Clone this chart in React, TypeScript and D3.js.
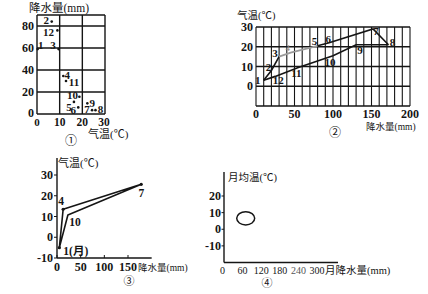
import React from 'react';
import * as d3 from 'd3';

// ---------- Chart 1 (temperature x, precipitation y), month scatter ----------
const c1Months = [1, 2, 3, 4, 5, 6, 7, 8, 9, 10, 11, 12];
const c1Temp = [0.3, 6.5, 9.5, 11.6, 16.3, 18.2, 24.3, 25.8, 22.2, 18.7, 12.8, 9];
const c1Precip = [59, 84, 59, 34.5, 11, 6, 3.5, 3.5, 9.7, 15.7, 30, 76];
const c1XTicks = [10, 20, 30];
const c1YTicks = [20, 40, 60, 80];

// ---------- Chart 2 (precipitation x, temperature y), annual loop ----------
const c2Months = [1, 2, 3, 4, 5, 6, 7, 8, 9, 10, 11, 12];
const c2Precip = [10, 20, 30, 45, 80, 95, 152, 172, 130, 100, 55, 25];
const c2Temp = [3, 8, 15, 17, 20.5, 22, 29, 21, 21, 15.5, 9.5, 5];
const c2XTicks = [0, 50, 100, 150, 200];
const c2YTicks = [0, 10, 20, 30];

// ---------- Chart 3 ----------
const c3Months = [1, 4, 7, 10];
const c3Precip = [5, 13, 178, 23];
const c3Temp = [-5, 13.5, 25.5, 10.7];
const c3XTicks = [0, 50, 100, 150];
const c3YTicks = [-10, 0, 10, 20, 30];

// ---------- Chart 4 (ellipse region) ----------
const c4PrecipRange = [41, 99];
const c4TempRange = [2.6, 10.6];
const c4XTicks = [0, 60, 120, 180, 240, 300];
const c4YTicks = [-10, 0, 10, 20];

const NUM = "'Liberation Serif', 'Noto Sans CJK SC', serif";
const INK = '#151515';
const W = 'bold';

// label offsets (style only)
const c1Off: Record<number, [number, number]> = {
  1: [3, -4], 2: [-5.5, -1.5], 3: [-5.5, -4], 4: [4, -1], 5: [-5, 5], 6: [-5, 2.5],
  7: [-5, -1.5], 8: [5, -1.5], 9: [5, 0], 10: [-7, -1.5], 11: [8, 1], 12: [-9, 2],
};
const c2Off: Record<number, [number, number]> = {
  1: [-6, 0], 2: [-3, -3], 3: [-4, -4], 4: [-3, -5], 5: [-3, -5], 6: [-1, -4],
  7: [3, 2], 8: [4, -3], 9: [4, 5], 10: [-3, 6], 11: [-2, 6], 12: [3, 4],
};
const c3Off: Record<number, [number, number]> = {
  1: [4, 3], 4: [-2, -8], 7: [0, 9], 10: [7, 7],
};

function Chart1() {
  const x = d3.scaleLinear().domain([0, 30]).range([37, 105]);
  const y = d3.scaleLinear().domain([0, 90]).range([114, 15]);
  const gridX = [0, 10, 20, 30];
  const gridY = [0, 20, 40, 60, 80, 90];
  return (
    <g>
      {gridX.map((v) => (
        <line key={'gx' + v} x1={x(v)} x2={x(v)} y1={y(0)} y2={y(90)} stroke={INK} strokeWidth={1.4} />
      ))}
      {gridY.map((v) => (
        <line key={'gy' + v} x1={x(0)} x2={x(30)} y1={y(v)} y2={y(v)} stroke={INK} strokeWidth={1.4} />
      ))}
      {c1YTicks.map((v) => (
        <text key={'yt' + v} x={x(0) - 3} y={y(v)} textAnchor="end" dominantBaseline="central" fontFamily={NUM} fontWeight={W} fontSize={12} fill={INK}>{v}</text>
      ))}
      <text x={x(0) - 3} y={y(0) - 1} textAnchor="end" dominantBaseline="central" fontFamily={NUM} fontWeight={W} fontSize={12} fill={INK}>0</text>
      <text x={x(0)} y={y(0) + 7.5} textAnchor="middle" dominantBaseline="central" fontFamily={NUM} fontWeight={W} fontSize={11} fill={INK}>0</text>
      {c1XTicks.map((v) => (
        <text key={'xt' + v} x={x(v) - (v === 30 ? 1 : 0)} y={y(0) + 7.5} textAnchor="middle" dominantBaseline="central" fontFamily={NUM} fontWeight={W} fontSize={11.5} fill={INK}>{v}</text>
      ))}
      <text x={29} y={8} dominantBaseline="central" fontFamily={NUM} fontSize={11.5} fill={INK}>降水量(mm)</text>
      <text x={88} y={133.5} dominantBaseline="central" fontFamily={NUM} fontSize={11} fill={INK}>气温(℃)</text>
      <text x={71} y={141} textAnchor="middle" dominantBaseline="central" fontFamily={NUM} fontSize={12} fill={INK}>①</text>
      {c1Months.map((m, i) => {
        const px = x(c1Temp[i]);
        const py = y(c1Precip[i]);
        const o = c1Off[m];
        return (
          <g key={'p1' + m}>
            <circle cx={px} cy={py} r={1.3} fill={INK} />
            <text x={px + o[0]} y={py + o[1]} textAnchor="middle" dominantBaseline="central" fontFamily={NUM} fontWeight={W} fontSize={11} fill={INK}>{m}</text>
          </g>
        );
      })}
    </g>
  );
}

function Chart2() {
  const x = d3.scaleLinear().domain([0, 200]).range([256, 410]);
  const y = d3.scaleLinear().domain([-10, 30]).range([106, 27]);
  const gridX = d3.range(0, 201, 10);
  const gridY = [-10, 0, 10, 20, 30];
  const line = d3.line<number>().x((i) => x(c2Precip[i])).y((i) => y(c2Temp[i]));
  const blackUpperA = [0, 1, 2];
  const greyPart = [2, 3, 4];
  const blackUpperB = [4, 5, 6, 7];
  const lower = [7, 8, 9, 10, 11, 0];
  return (
    <g>
      {gridX.map((v) => (
        <line key={'gx' + v} x1={x(v)} x2={x(v)} y1={y(-10)} y2={y(30)} stroke={INK} strokeWidth={1.1} />
      ))}
      {gridY.map((v) => (
        <line key={'gy' + v} x1={x(0)} x2={x(200)} y1={y(v)} y2={y(v)} stroke={INK} strokeWidth={1.3} />
      ))}
      {c2YTicks.map((v) => (
        <text key={'yt' + v} x={x(0) - 3} y={y(v)} textAnchor="end" dominantBaseline="central" fontFamily={NUM} fontWeight={W} fontSize={12} fill={INK}>{v}</text>
      ))}
      {c2XTicks.map((v) => (
        <text key={'xt' + v} x={x(v)} y={y(-10) + 8} textAnchor="middle" dominantBaseline="central" fontFamily={NUM} fontWeight={W} fontSize={12} fill={INK}>{v}</text>
      ))}
      <text x={237} y={15} dominantBaseline="central" fontFamily={NUM} fontSize={10.5} fill={INK}>气温(℃)</text>
      <text x={366} y={127} dominantBaseline="central" fontFamily={NUM} fontSize={9.5} fill={INK}>降水量(mm)</text>
      <text x={335} y={133} textAnchor="middle" dominantBaseline="central" fontFamily={NUM} fontSize={12} fill={INK}>②</text>
      <path d={line(blackUpperA) || ''} fill="none" stroke={INK} strokeWidth={1.6} />
      <path d={line(greyPart) || ''} fill="none" stroke="#9a9a9a" strokeWidth={1.8} />
      <path d={line(blackUpperB) || ''} fill="none" stroke={INK} strokeWidth={1.6} />
      <path d={line(lower) || ''} fill="none" stroke={INK} strokeWidth={1.6} />
      {c2Months.map((m, i) => {
        const px = x(c2Precip[i]);
        const py = y(c2Temp[i]);
        const o = c2Off[m];
        const grey = m === 4;
        return (
          <text key={'l2' + m} x={px + o[0]} y={py + o[1]} textAnchor="middle" dominantBaseline="central" fontFamily={NUM} fontWeight={grey ? 'normal' : W} fontSize={grey ? 9 : 11} fill={grey ? '#8a8a8a' : INK}>{m}</text>
        );
      })}
    </g>
  );
}

function Chart3() {
  const x = d3.scaleLinear().domain([0, 150]).range([57, 128]);
  const y = d3.scaleLinear().domain([-10, 30]).range([258, 175]);
  const order = [0, 1, 2, 3, 0];
  const line = d3.line<number>().x((i) => x(c3Precip[i])).y((i) => y(c3Temp[i]));
  return (
    <g>
      <line x1={x(0)} x2={x(0)} y1={y(-10)} y2={158} stroke={INK} strokeWidth={1.4} />
      <line x1={x(0)} x2={x(200)} y1={y(-10)} y2={y(-10)} stroke={INK} strokeWidth={1.4} />
      {c3YTicks.map((v) => (
        <g key={'yt' + v}>
          <line x1={x(0) - 3} x2={x(0)} y1={y(v)} y2={y(v)} stroke={INK} strokeWidth={1} />
          <text x={x(0) - 4} y={y(v)} textAnchor="end" dominantBaseline="central" fontFamily={NUM} fontWeight={W} fontSize={12} fill={INK}>{v}</text>
        </g>
      ))}
      {c3XTicks.map((v) => (
        <g key={'xt' + v}>
          <line x1={x(v)} x2={x(v)} y1={y(-10)} y2={y(-10) - 3} stroke={INK} strokeWidth={1} />
          <text x={x(v)} y={y(-10) + 9} textAnchor="middle" dominantBaseline="central" fontFamily={NUM} fontWeight={W} fontSize={12} fill={INK}>{v}</text>
        </g>
      ))}
      <text x={58} y={163} dominantBaseline="central" fontFamily={NUM} fontSize={11} fill={INK}>气温(℃)</text>
      <text x={138} y={268} dominantBaseline="central" fontFamily={NUM} fontSize={9.5} fill={INK}>降水量(mm)</text>
      <text x={129} y={281} textAnchor="middle" dominantBaseline="central" fontFamily={NUM} fontSize={11} fill={INK}>③</text>
      <path d={line(order) || ''} fill="none" stroke={INK} strokeWidth={1.6} strokeLinejoin="round" />
      {c3Months.map((m, i) => {
        const px = x(c3Precip[i]);
        const py = y(c3Temp[i]);
        const o = c3Off[m];
        return (
          <g key={'p3' + m}>
            {m !== 10 && <circle cx={px} cy={py} r={1.6} fill={INK} />}
            <text x={px + o[0]} y={py + o[1]} textAnchor={m === 1 ? 'start' : 'middle'} dominantBaseline="central" fontFamily={NUM} fontWeight={W} fontSize={11.5} fill={INK}>{m === 1 ? '1(月)' : m}</text>
          </g>
        );
      })}
    </g>
  );
}

function Chart4() {
  const x = d3.scaleLinear().domain([0, 300]).range([224, 317]);
  const y = d3.scaleLinear().domain([-20, 20]).range([262.5, 196]);
  const cx = x((c4PrecipRange[0] + c4PrecipRange[1]) / 2);
  const cy = y((c4TempRange[0] + c4TempRange[1]) / 2);
  const rx = (x(c4PrecipRange[1]) - x(c4PrecipRange[0])) / 2;
  const ry = (y(c4TempRange[0]) - y(c4TempRange[1])) / 2;
  return (
    <g>
      <line x1={x(0)} x2={x(0)} y1={y(-20)} y2={172} stroke={INK} strokeWidth={1.4} />
      <line x1={x(0)} x2={338} y1={y(-20)} y2={y(-20)} stroke={INK} strokeWidth={1.4} />
      {c4YTicks.map((v) => (
        <g key={'yt' + v}>
          <line x1={x(0) - 2.5} x2={x(0)} y1={y(v)} y2={y(v)} stroke={INK} strokeWidth={1} />
          <text x={x(0) - 3} y={y(v)} textAnchor="end" dominantBaseline="central" fontFamily={NUM} fontWeight={W} fontSize={12} fill={INK}>{v}</text>
        </g>
      ))}
      {c4XTicks.map((v) => (
        <text key={'xt' + v} x={x(v) - (v === 0 ? 1.5 : 0)} y={y(-20) + 8} textAnchor="middle" dominantBaseline="central" fontFamily={NUM} fontSize={10} fill={v === 240 ? '#555' : INK}>{v}</text>
      ))}
      <text x={228} y={177} dominantBaseline="central" fontFamily={NUM} fontSize={10.5} fill={INK}>月均温(℃)</text>
      <text x={325} y={270.5} dominantBaseline="central" fontFamily={NUM} fontSize={10.5} fill={INK}>月降水量(mm)</text>
      <text x={267} y={283} textAnchor="middle" dominantBaseline="central" fontFamily={NUM} fontSize={11} fill={INK}>④</text>
      <ellipse cx={cx} cy={cy} rx={rx} ry={ry} fill="none" stroke={INK} strokeWidth={1.5} />
    </g>
  );
}

export default function App() {
  return (
    <svg width={428} height={294} viewBox="0 0 428 294" style={{ position: 'absolute', left: 0, top: 0, background: '#fff' }}>
      <rect x={0} y={0} width={428} height={294} fill="#fff" />
      <Chart1 />
      <Chart2 />
      <Chart3 />
      <Chart4 />
    </svg>
  );
}
